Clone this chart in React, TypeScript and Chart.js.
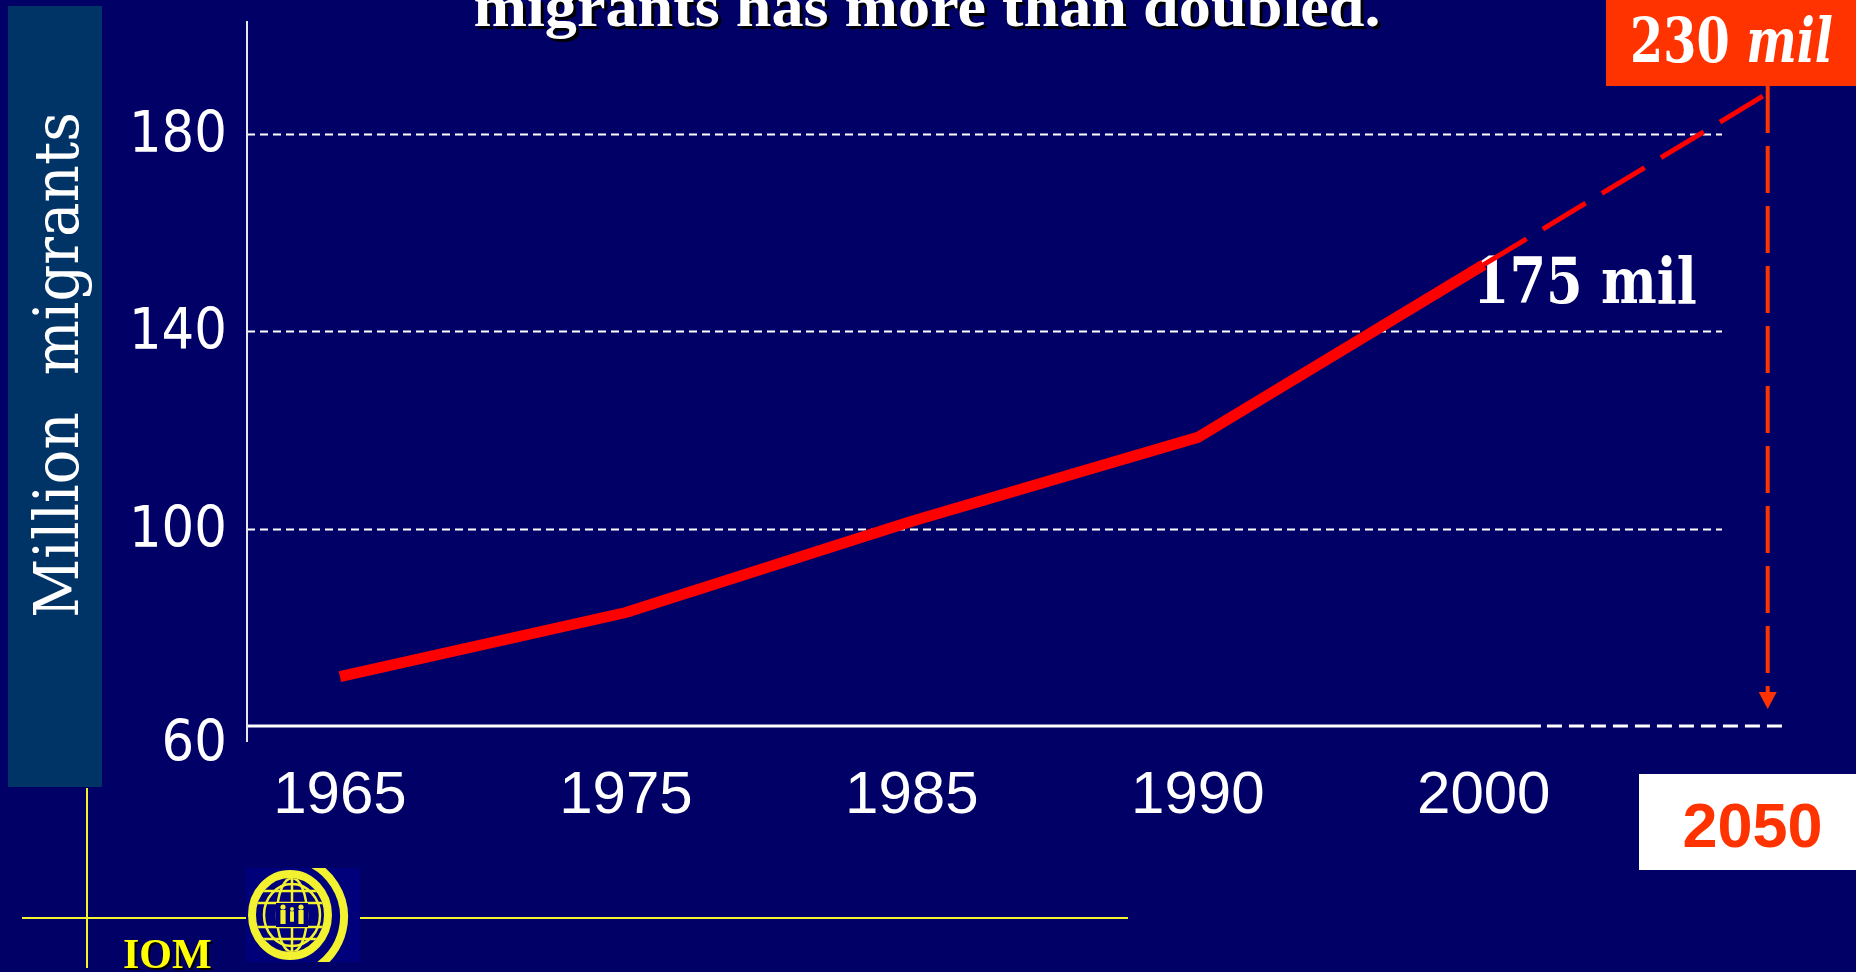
import React, { useEffect, useRef } from 'react';
import { Chart, registerables } from 'chart.js';

Chart.register(...registerables);

// ---------- data ----------
const years = ['1965', '1975', '1985', '1990', '2000', '2050'];
const migrants = [70, 83, 101.5, 118.5, 153.5, 188.5];
const lastHistoricIndex = 4;
const yTicks = [60, 100, 140, 180];
const titleText = 'migrants has more than doubled.';
const yTitle = 'Million  migrants';
const label2000 = '175 mil';
const label2050Num = '230 ';
const label2050Unit = 'mil';
const orgName = 'IOM';

// ---------- styles ----------
const W = 1856;
const H = 972;
const NAVY = '#000066';
const TEAL = '#003366';
const ORANGE = '#FF3300';
const RED = '#FF0000';
const YELLOW = '#F2F230';
const SERIF = '"DejaVu Serif", "Liberation Serif", serif';

function fitText(
  ctx: CanvasRenderingContext2D,
  text: string,
  x: number,
  y: number,
  font: string,
  width: number,
  align: CanvasTextAlign
) {
  ctx.font = font;
  const m = ctx.measureText(text).width;
  const s = width / m;
  ctx.save();
  ctx.translate(x, y);
  ctx.scale(s, 1);
  ctx.textAlign = align;
  ctx.textBaseline = 'alphabetic';
  ctx.fillText(text, 0, 0);
  ctx.restore();
}

function drawLogo(ctx: CanvasRenderingContext2D, cx: number, cy: number) {
  ctx.save();
  ctx.fillStyle = '#00007a';
  ctx.fillRect(cx - 44, cy - 47, 114, 94);
  ctx.beginPath();
  ctx.rect(cx - 44, cy - 47, 114, 94);
  ctx.clip();
  ctx.strokeStyle = YELLOW;
  // outer ring (thicker on the left)
  ctx.lineWidth = 8;
  ctx.beginPath();
  ctx.ellipse(cx, cy, 38, 41, 0, 0, Math.PI * 2);
  ctx.stroke();
  // outer right arc
  ctx.lineWidth = 8;
  ctx.beginPath();
  ctx.arc(cx - 6, cy + 2, 60, -1.35, 1.1);
  ctx.stroke();
  // inner globe grid
  ctx.save();
  ctx.beginPath();
  ctx.ellipse(cx, cy, 34, 37, 0, 0, Math.PI * 2);
  ctx.clip();
  ctx.lineWidth = 2.5;
  ctx.beginPath();
  ctx.ellipse(cx + 2, cy, 28, 31, 0, 0, Math.PI * 2);
  ctx.stroke();
  for (const dy of [-24, -12, 12, 24]) {
    ctx.beginPath();
    ctx.moveTo(cx - 40, cy + dy);
    ctx.lineTo(cx + 40, cy + dy);
    ctx.stroke();
  }
  ctx.beginPath();
  ctx.moveTo(cx + 2, cy - 40);
  ctx.lineTo(cx + 2, cy + 40);
  ctx.stroke();
  ctx.beginPath();
  ctx.ellipse(cx + 2, cy, 15, 37, 0, 0, Math.PI * 2);
  ctx.stroke();
  ctx.restore();
  // figures
  ctx.fillStyle = '#00007a';
  ctx.fillRect(cx - 14, cy - 12, 32, 24);
  ctx.fillStyle = YELLOW;
  const figs = [
    [cx - 7, 1],
    [cx + 2, 0.75],
    [cx + 11, 1],
  ];
  for (const [fx, sc] of figs) {
    ctx.beginPath();
    ctx.arc(fx, cy - 8 * sc, 2.6 * sc, 0, Math.PI * 2);
    ctx.fill();
    ctx.fillRect(fx - 2.6 * sc, cy - 5 * sc, 5.2 * sc, 14 * sc);
  }
  ctx.restore();
}

const slidePlugin = {
  id: 'slide',
  beforeDraw(chart: any) {
    const ctx: CanvasRenderingContext2D = chart.ctx;
    const xs = chart.scales.x;
    const ys = chart.scales.y;
    const area = chart.chartArea;
    ctx.save();

    // background
    ctx.fillStyle = NAVY;
    ctx.fillRect(0, 0, W, H);

    // y title box
    ctx.fillStyle = TEAL;
    ctx.fillRect(8, 6, 94, 781);
    ctx.save();
    ctx.fillStyle = '#FFFFFF';
    ctx.translate(78, 365);
    ctx.rotate(-Math.PI / 2);
    fitText(ctx, yTitle, 0, 0, '62px ' + SERIF, 506, 'center');
    ctx.restore();

    // title (partially cut off at top)
    ctx.save();
    ctx.fillStyle = '#FFFFFF';
    ctx.shadowColor = '#000000';
    ctx.shadowOffsetX = 3;
    ctx.shadowOffsetY = 3;
    fitText(ctx, titleText, 927, 26, 'bold 60px "Liberation Serif"', 907, 'center');
    ctx.restore();

    // orange 2050 value box
    ctx.fillStyle = ORANGE;
    ctx.fillRect(1606, 0, W - 1606, 86);
    {
      const fNum = 'bold 62px ' + SERIF;
      const fUnit = 'italic bold 62px ' + SERIF;
      ctx.font = fNum;
      const w1 = ctx.measureText(label2050Num).width;
      ctx.font = fUnit;
      const w2 = ctx.measureText(label2050Unit).width;
      const s = 203 / (w1 + w2);
      ctx.save();
      ctx.translate(1630, 62);
      ctx.scale(s, 1);
      ctx.fillStyle = '#FFFFFF';
      ctx.textAlign = 'left';
      ctx.textBaseline = 'alphabetic';
      ctx.font = fNum;
      ctx.fillText(label2050Num, 0, 0);
      ctx.font = fUnit;
      ctx.fillText(label2050Unit, w1, 0);
      ctx.restore();
    }

    // 2050 label box
    ctx.fillStyle = '#FFFFFF';
    ctx.fillRect(1639, 774, W - 1639, 96);
    ctx.fillStyle = ORANGE;
    ctx.font = 'bold 63px "Liberation Sans"';
    ctx.textAlign = 'center';
    ctx.textBaseline = 'alphabetic';
    ctx.fillText(years[years.length - 1], (1639 + W) / 2 + 5, 847);

    // gridlines
    ctx.strokeStyle = '#FFFFFF';
    ctx.lineWidth = 2;
    ctx.setLineDash([8, 5]);
    for (const t of yTicks) {
      if (t === ys.min) continue;
      const py = Math.round(ys.getPixelForValue(t)) + 0.5;
      ctx.beginPath();
      ctx.moveTo(area.left, py);
      ctx.lineTo(area.right - 62, py);
      ctx.stroke();
    }

    // baseline: solid for history, dashed for projection
    const by = area.bottom;
    const splitX = xs.getPixelForValue(lastHistoricIndex + 0.2);
    ctx.lineWidth = 3;
    ctx.setLineDash([]);
    ctx.beginPath();
    ctx.moveTo(area.left, by);
    ctx.lineTo(splitX, by);
    ctx.stroke();
    ctx.setLineDash([15, 7]);
    ctx.beginPath();
    ctx.moveTo(splitX + 6, by);
    ctx.lineTo(area.right, by);
    ctx.stroke();
    ctx.setLineDash([]);

    // y axis line
    ctx.strokeStyle = '#E6E6E6';
    ctx.lineWidth = 2;
    ctx.beginPath();
    ctx.moveTo(area.left, area.top);
    ctx.lineTo(area.left, area.bottom + 16);
    ctx.stroke();

    // y tick labels
    ctx.fillStyle = '#FFFFFF';
    for (const t of yTicks) {
      const py = ys.getPixelForValue(t) + (t === ys.min ? 35 : 18);
      const s = String(t);
      fitText(ctx, s, 227, py, '57px "DejaVu Sans"', 32.7 * s.length, 'right');
    }

    // x tick labels (historic years)
    ctx.font = '60px "Liberation Sans"';
    ctx.textAlign = 'center';
    ctx.textBaseline = 'alphabetic';
    years.forEach((yr, i) => {
      if (i > lastHistoricIndex) return;
      ctx.fillText(yr, xs.getPixelForValue(i), 813);
    });

    // 175 mil label
    {
      const px = xs.getPixelForValue(lastHistoricIndex);
      const py = ys.getPixelForValue(migrants[lastHistoricIndex]);
      ctx.fillStyle = '#FFFFFF';
      fitText(ctx, label2000, px - 11, py + 38, 'bold 64px ' + SERIF, 224, 'left');
    }

    // footer: yellow lines, IOM, logo
    ctx.strokeStyle = YELLOW;
    ctx.lineWidth = 2;
    ctx.beginPath();
    ctx.moveTo(22, 918);
    ctx.lineTo(1128, 918);
    ctx.stroke();
    ctx.beginPath();
    ctx.moveTo(87, 788);
    ctx.lineTo(87, 968);
    ctx.stroke();
    ctx.save();
    ctx.fillStyle = '#FFFF00';
    ctx.shadowColor = '#000000';
    ctx.shadowOffsetX = 2;
    ctx.shadowOffsetY = 2;
    ctx.font = 'bold 42px "Liberation Serif"';
    ctx.textAlign = 'left';
    ctx.fillText(orgName, 123, 968);
    ctx.restore();
    drawLogo(ctx, 290, 915);

    ctx.restore();
  },
  afterDraw(chart: any) {
    const ctx: CanvasRenderingContext2D = chart.ctx;
    const xs = chart.scales.x;
    const area = chart.chartArea;
    const ax = xs.getPixelForValue(years.length - 1) - 2;
    const tip = area.bottom - 17;
    ctx.save();
    ctx.strokeStyle = ORANGE;
    ctx.fillStyle = ORANGE;
    ctx.lineWidth = 4;
    ctx.setLineDash([47, 13]);
    ctx.beginPath();
    ctx.moveTo(ax, 86);
    ctx.lineTo(ax, tip - 14);
    ctx.stroke();
    ctx.setLineDash([]);
    ctx.beginPath();
    ctx.moveTo(ax - 9, tip - 17);
    ctx.lineTo(ax + 9, tip - 17);
    ctx.lineTo(ax, tip);
    ctx.closePath();
    ctx.fill();
    ctx.restore();
  },
};

export default function App() {
  const ref = useRef<HTMLCanvasElement>(null);
  useEffect(() => {
    document.body.style.margin = '0';
    document.body.style.background = NAVY;
    const historic = migrants
      .slice(0, lastHistoricIndex + 1)
      .map((v, i) => ({ x: i, y: v }));
    const projection = migrants
      .slice(lastHistoricIndex)
      .map((v, j) => ({ x: j + lastHistoricIndex, y: v }));
    const chart = new Chart(ref.current as HTMLCanvasElement, {
      type: 'line',
      data: {
        datasets: [
          {
            label: 'Migrants',
            data: historic,
            borderColor: RED,
            borderWidth: 11,
            borderCapStyle: 'butt',
            borderJoinStyle: 'miter',
            pointRadius: 0,
            tension: 0,
            fill: false,
            clip: false as any,
          },
          {
            label: 'Projection',
            data: projection,
            borderColor: RED,
            borderWidth: 5,
            borderDash: [50, 19],
            borderCapStyle: 'butt',
            pointRadius: 0,
            tension: 0,
            fill: false,
            clip: false as any,
          },
        ],
      },
      options: {
        responsive: false,
        animation: false,
        devicePixelRatio: 1,
        layout: { padding: { left: 247, right: 72, top: 21, bottom: 246 } },
        plugins: {
          legend: { display: false },
          tooltip: { enabled: false },
          title: { display: false },
        },
        scales: {
          x: {
            type: 'linear',
            display: false,
            min: -0.325,
            max: 5.05,
          },
          y: {
            type: 'linear',
            display: false,
            min: 60,
            max: 202.9,
          },
        },
      },
      plugins: [slidePlugin],
    });
    return () => chart.destroy();
  }, []);
  return (
    <div style={{ width: W, height: H, overflow: 'hidden', background: NAVY }}>
      <canvas ref={ref} width={W} height={H} style={{ display: 'block', width: W, height: H }} />
    </div>
  );
}
